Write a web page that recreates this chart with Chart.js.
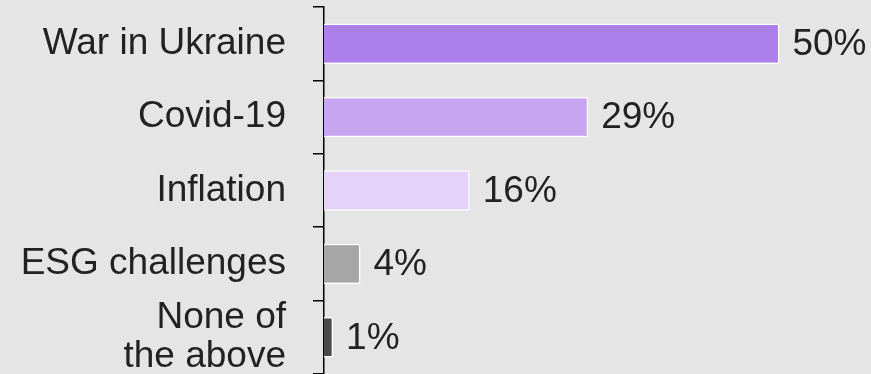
<!DOCTYPE html>
<html>
<head>
<meta charset="utf-8">
<script src="https://cdn.jsdelivr.net/npm/chart.js@4"></script>
<style>
  html, body { margin: 0; padding: 0; background: #e5e5e5; }
  #wrap { width: 871px; height: 374px; }
</style>
</head>
<body>
<div id="wrap"><canvas id="chart"></canvas></div>
<script>
const categories = ['War in Ukraine', 'Covid-19', 'Inflation', 'ESG challenges', ['None of', 'the above']];
const shares = [50, 29, 16, 4, 1];
const barColors = ['#ad7fea', '#c8a5f1', '#e4d2f9', '#a6a6a6', '#4a4a4a'];

const FONT = "'Liberation Sans', Arial, sans-serif";
const FONT_SIZE = 37;

// paint the grey page colour behind everything
const background = {
  id: 'background',
  beforeDraw(chart) {
    const ctx = chart.ctx;
    ctx.save();
    ctx.fillStyle = '#e5e5e5';
    ctx.fillRect(0, 0, chart.width, chart.height);
    ctx.restore();
  }
};

// percentage text just past the end of each bar
const valueLabels = {
  id: 'valueLabels',
  afterDatasetsDraw(chart) {
    const ctx = chart.ctx;
    const meta = chart.getDatasetMeta(0);
    ctx.save();
    ctx.font = FONT_SIZE + 'px ' + FONT;
    ctx.fillStyle = '#222';
    ctx.textAlign = 'left';
    ctx.textBaseline = 'middle';
    meta.data.forEach((bar, i) => {
      ctx.fillText(shares[i] + '%', bar.x + 13, bar.y + 1);
    });
    ctx.restore();
  }
};

new Chart(document.getElementById('chart'), {
  type: 'bar',
  data: {
    labels: categories,
    datasets: [{
      data: shares,
      backgroundColor: barColors,
      borderColor: '#ffffff',
      borderWidth: 1.5,
      barPercentage: 0.55,
      categoryPercentage: 1
    }]
  },
  options: {
    indexAxis: 'y',
    responsive: true,
    maintainAspectRatio: false,
    animation: false,
    layout: { padding: { top: 7, bottom: 0, left: 0, right: 46 } },
    plugins: {
      legend: { display: false },
      tooltip: { enabled: false }
    },
    scales: {
      x: {
        display: false,
        min: 0,
        max: 55
      },
      y: {
        // fixed axis position; labels sit inside their bands so no extra padding
        afterFit(scale) {
          scale.width = 324;
          scale.paddingTop = 0;
          scale.paddingBottom = 0;
        },
        border: { display: true, color: '#000', width: 1.5 },
        grid: {
          offset: true,
          drawOnChartArea: false,
          drawTicks: true,
          tickLength: 11,
          color: '#000',
          lineWidth: 1.5
        },
        ticks: {
          autoSkip: false,
          padding: 27,
          color: '#222',
          font: { family: FONT, size: FONT_SIZE, lineHeight: 1.06 }
        }
      }
    }
  },
  plugins: [background, valueLabels]
});
</script>
</body>
</html>
